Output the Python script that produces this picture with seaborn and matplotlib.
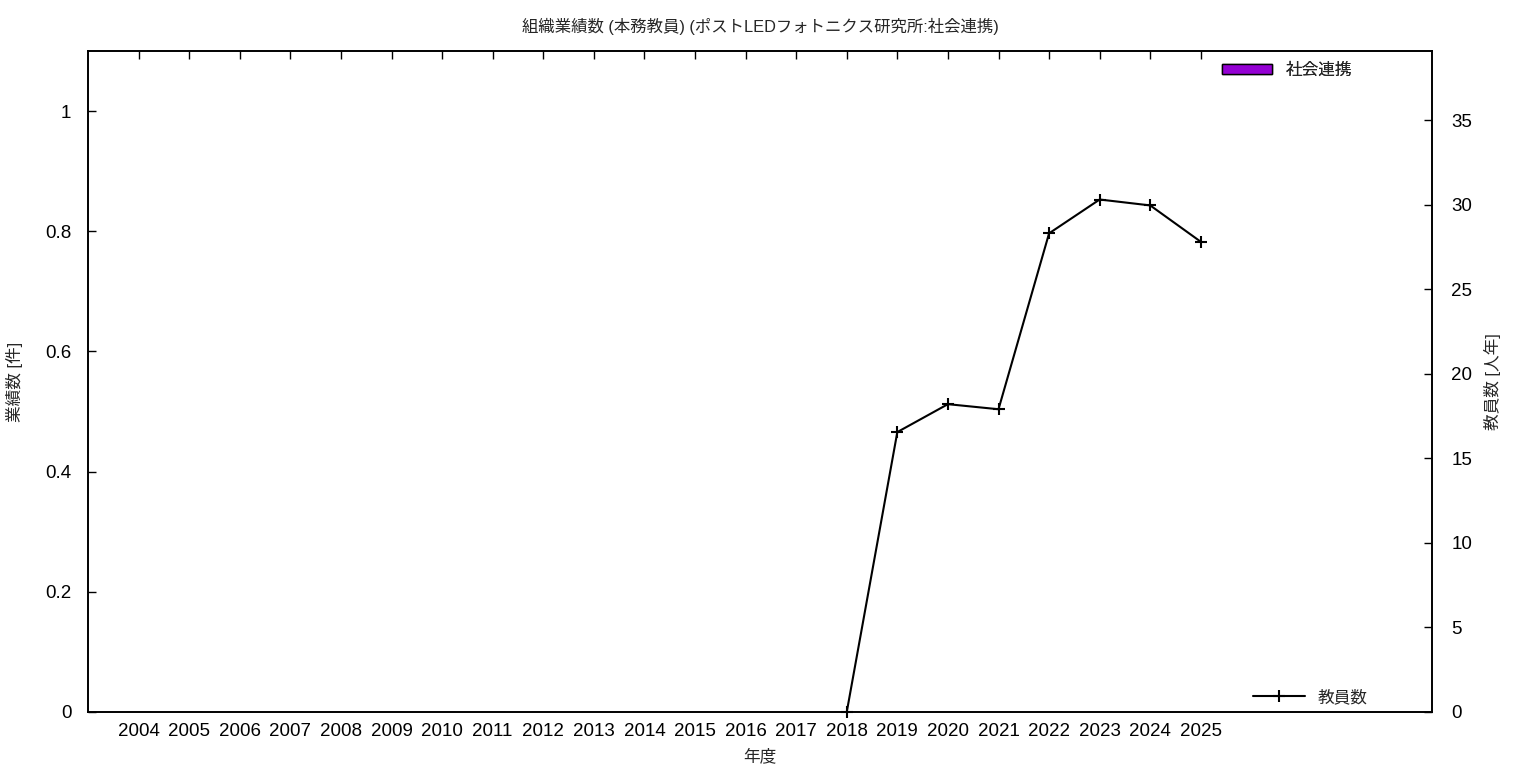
import numpy as np
import pandas as pd
import matplotlib
matplotlib.use("Agg")
import matplotlib.pyplot as plt
import seaborn as sns
from matplotlib.patches import Patch
from matplotlib.lines import Line2D

# Data
years = [str(y) for y in range(2004, 2026)]
shakai_renkei = [0] * len(years)  # 社会連携 (all zero)
kyoin_years = ["2018", "2019", "2020", "2021", "2022", "2023", "2024", "2025"]
kyoin_values = [0.0, 16.55, 18.2, 17.9, 28.3, 30.3, 29.95, 27.8]

title = "組織業績数 (本務教員) (ポストLEDフォトニクス研究所:社会連携)"

sns.set_style("white")
plt.rcParams["font.family"] = ["Liberation Sans", "Noto Sans CJK JP"]

fig = plt.figure(figsize=(15.36, 7.68), dpi=100)
ax = fig.add_axes([88 / 1536, 56 / 768, (1432 - 88) / 1536, (712 - 51) / 768])

bar_df = pd.DataFrame({"year": years, "value": shakai_renkei})
sns.barplot(data=bar_df, x="year", y="value", color="#9400d3",
            edgecolor="black", linewidth=1, width=0.5, ax=ax)

ax2 = ax.twinx()
line_df = pd.DataFrame({"x": [years.index(y) for y in kyoin_years],
                        "value": kyoin_values})
sns.lineplot(data=line_df, x="x", y="value", color="black", linewidth=1.5,
             marker="+", markersize=9, markeredgewidth=1.5,
             markeredgecolor="black", ax=ax2)
for ln in ax2.lines:
    ln.set_clip_on(False)

ax.set_xlim(-1.0, 25.57)
ax.set_ylim(0, 1.1)
ax2.set_ylim(0, 39.08)
ax.set_yticks([0, 0.2, 0.4, 0.6, 0.8, 1.0])
ax.set_yticklabels(["0", "0.2", "0.4", "0.6", "0.8", "1"])
ax2.set_yticks(range(0, 36, 5))

for a in (ax, ax2):
    for s in a.spines.values():
        s.set_color("black")
        s.set_linewidth(1.2)

ax.tick_params(axis="x", direction="in", length=6, width=1, top=True,
               labelsize=13.5, pad=8, colors="black")
ax.tick_params(axis="y", direction="in", length=6, width=1, labelsize=13.5,
               pad=12, colors="black")
ax2.tick_params(axis="y", direction="in", length=6, width=1, labelsize=13.5,
                pad=14, colors="black")

ax.set_xlabel("年度", fontsize=12, labelpad=6)
ax.set_ylabel("業績数 [件]", fontsize=12, labelpad=16)
ax2.set_ylabel("教員数 [人年]", fontsize=12, labelpad=8, rotation=90)
ax.set_title(title, fontsize=11.8, pad=14)

# Legends (gnuplot style, separate for each axis)
h1 = Patch(facecolor="#9400d3", edgecolor="black", linewidth=1)
leg1 = ax.legend([h1], ["社会連携"], loc="upper right", frameon=False,
                 fontsize=12, handlelength=3.0, handleheight=0.5,
                 bbox_to_anchor=(0.949, 1.0), borderaxespad=0.3)
ax.add_artist(leg1)
h2 = Line2D([], [], color="black", linewidth=1.5, marker="+",
            markersize=9, markeredgewidth=1.5)
ax2.legend([h2], ["教員数"], loc="lower right", frameon=False, fontsize=12,
           handlelength=3.1, bbox_to_anchor=(0.961, -0.007), borderaxespad=0.3)

fig.savefig("out.png", dpi=100)
